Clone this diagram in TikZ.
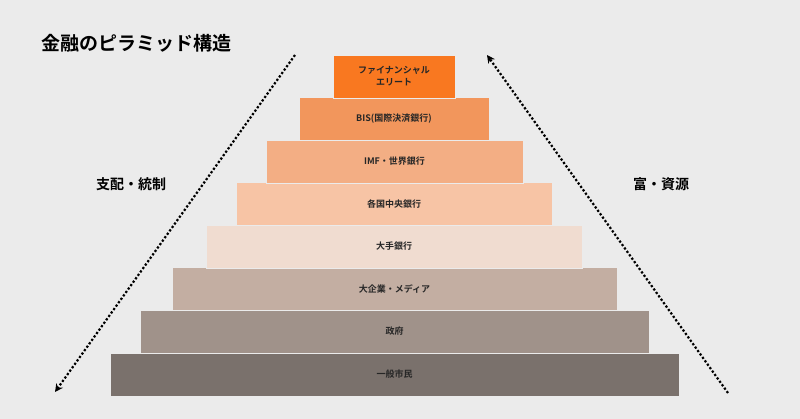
\documentclass[tikz,border=0pt]{standalone}
\usepackage{fontspec}
\setmainfont{Noto Sans CJK JP}[BoldFont={* Bold}]
\usetikzlibrary{arrows.meta}
\definecolor{bg}{HTML}{EBEBEB}
\definecolor{c1}{HTML}{F97820}
\definecolor{c2}{HTML}{F2965C}
\definecolor{c3}{HTML}{F3AE84}
\definecolor{c4}{HTML}{F7C4A5}
\definecolor{c5}{HTML}{F0DCD0}
\definecolor{c6}{HTML}{C3AEA2}
\definecolor{c7}{HTML}{A0928A}
\definecolor{c8}{HTML}{7A716C}
\tikzset{layer/.style={draw=bg,line width=0.6pt,inner sep=0pt,font=\bfseries\fontsize{9}{12}\selectfont,align=center,text=black!85},
 flow/.style={line width=2.2pt,dotted,-{Stealth[length=8pt,width=8pt]}},
 side/.style={font=\bfseries\fontsize{14}{16}\selectfont}}
\begin{document}
\begin{tikzpicture}[x=1pt,y=-1pt]
\fill[bg] (0,0) rectangle (800,419);
\useasboundingbox (0,0) rectangle (800,419);
\node[font=\bfseries\fontsize{19}{22}\selectfont,anchor=west] (title) at (38,43) {金融のピラミッド構造};
\node[layer,fill=c8,minimum width=569,minimum height=43] (l8) at (394.5,374.5) {一般市民};
\node[layer,fill=c7,minimum width=509,minimum height=43] (l7) at (394.5,331.5) {政府};
\node[layer,fill=c6,minimum width=445,minimum height=43] (l6) at (394.5,289) {大企業・メディア};
\node[layer,fill=c5,minimum width=376,minimum height=43] (l5) at (394,246.5) {大手銀行};
\node[layer,fill=c4,minimum width=316,minimum height=43] (l4) at (394,204) {各国中央銀行};
\node[layer,fill=c3,minimum width=257,minimum height=43] (l3) at (394.5,161.5) {IMF・世界銀行};
\node[layer,fill=c2,minimum width=190,minimum height=43] (l2) at (394,119) {BIS(国際決済銀行)};
\node[layer,fill=c1,minimum width=122,minimum height=43] (l1) at (394,76.5) {ファイナンシャル\\エリート};
\coordinate (a1) at (295,55);
\coordinate (a2) at (55,392);
\coordinate (b1) at (728,393);
\coordinate (b2) at (487,55);
\draw[flow] (a1) -- (a2);
\draw[flow] (b1) -- (b2);
\node[side] (ls) at (131,184) {支配・統制};
\node[side] (rs) at (661,184) {富・資源};
\end{tikzpicture}
\end{document}
